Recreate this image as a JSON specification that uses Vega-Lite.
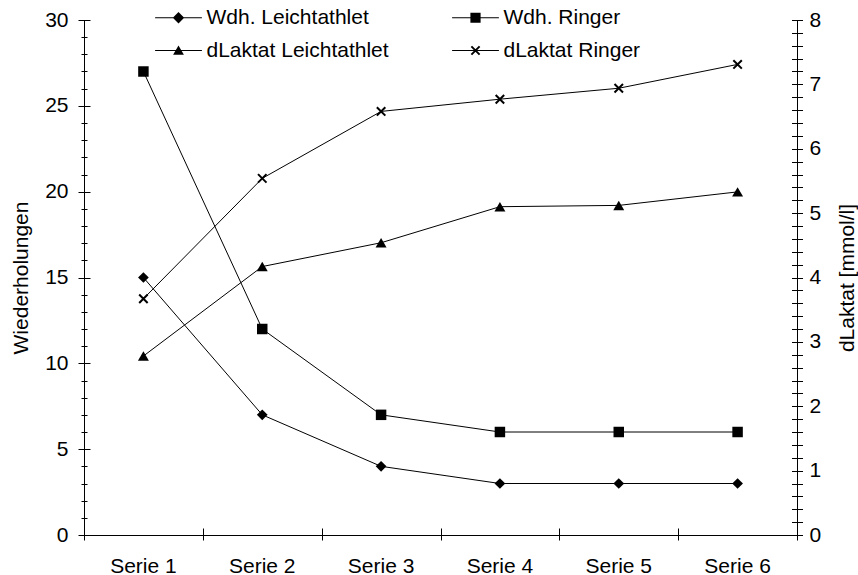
{
  "$schema": "https://vega.github.io/schema/vega-lite/v6.json",
  "width": 713,
  "height": 515,
  "autosize": {"type": "none"},
  "padding": {"left": 84, "top": 20, "right": 61, "bottom": 40},
  "background": "white",
  "config": {
    "view": {"stroke": null},
    "font": "Liberation Sans",
    "axis": {
      "labelFont": "Liberation Sans",
      "titleFont": "Liberation Sans",
      "labelFontSize": 21,
      "titleFontSize": 21,
      "titleFontWeight": "normal",
      "labelColor": "black",
      "titleColor": "black",
      "domainColor": "black",
      "tickColor": "black",
      "domainWidth": 1,
      "tickWidth": 1,
      "grid": false,
      "labelFlush": false,
      "labelOverlap": false
    }
  },
  "data": {
    "values": [
      {"serie": "Serie 1", "series": "Wdh. Leichtathlet", "v": 15},
      {"serie": "Serie 2", "series": "Wdh. Leichtathlet", "v": 7},
      {"serie": "Serie 3", "series": "Wdh. Leichtathlet", "v": 4},
      {"serie": "Serie 4", "series": "Wdh. Leichtathlet", "v": 3},
      {"serie": "Serie 5", "series": "Wdh. Leichtathlet", "v": 3},
      {"serie": "Serie 6", "series": "Wdh. Leichtathlet", "v": 3},
      {"serie": "Serie 1", "series": "Wdh. Ringer", "v": 27},
      {"serie": "Serie 2", "series": "Wdh. Ringer", "v": 12},
      {"serie": "Serie 3", "series": "Wdh. Ringer", "v": 7},
      {"serie": "Serie 4", "series": "Wdh. Ringer", "v": 6},
      {"serie": "Serie 5", "series": "Wdh. Ringer", "v": 6},
      {"serie": "Serie 6", "series": "Wdh. Ringer", "v": 6},
      {"serie": "Serie 1", "series": "dLaktat Leichtathlet", "v": 2.78},
      {"serie": "Serie 2", "series": "dLaktat Leichtathlet", "v": 4.17},
      {"serie": "Serie 3", "series": "dLaktat Leichtathlet", "v": 4.54},
      {"serie": "Serie 4", "series": "dLaktat Leichtathlet", "v": 5.1},
      {"serie": "Serie 5", "series": "dLaktat Leichtathlet", "v": 5.12},
      {"serie": "Serie 6", "series": "dLaktat Leichtathlet", "v": 5.33},
      {"serie": "Serie 1", "series": "dLaktat Ringer", "v": 3.67},
      {"serie": "Serie 2", "series": "dLaktat Ringer", "v": 5.54},
      {"serie": "Serie 3", "series": "dLaktat Ringer", "v": 6.58},
      {"serie": "Serie 4", "series": "dLaktat Ringer", "v": 6.77},
      {"serie": "Serie 5", "series": "dLaktat Ringer", "v": 6.94},
      {"serie": "Serie 6", "series": "dLaktat Ringer", "v": 7.31}
    ]
  },
  "encoding": {
    "x": {
      "field": "serie", "type": "nominal",
      "scale": {"type": "band", "domain": ["Serie 1", "Serie 2", "Serie 3", "Serie 4", "Serie 5", "Serie 6"], "paddingInner": 0, "paddingOuter": 0},
      "axis": null
    }
  },
  "layer": [
    {
      "transform": [{"filter": {"field": "series", "oneOf": ["Wdh. Leichtathlet", "Wdh. Ringer"]}}],
      "encoding": {
        "y": {"field": "v", "type": "quantitative", "scale": {"domain": [0, 30], "nice": false}, "axis": null}
      },
      "layer": [
        {
          "mark": {"type": "line", "color": "black", "strokeWidth": 1},
          "encoding": {
            "detail": {"field": "series"},
            "x": {
              "field": "serie", "type": "nominal",
              "scale": {"type": "band", "domain": ["Serie 1", "Serie 2", "Serie 3", "Serie 4", "Serie 5", "Serie 6"], "paddingInner": 0, "paddingOuter": 0},
              "axis": {"orient": "bottom", "title": null, "ticks": false, "domain": true, "labelPadding": 20, "labelAngle": 0}
            },
            "y": {
              "field": "v", "type": "quantitative", "scale": {"domain": [0, 30], "nice": false},
              "axis": {"orient": "left", "title": "Wiederholungen", "values": [0, 5, 10, 15, 20, 25, 30], "ticks": false, "domain": true, "labelPadding": 16, "titlePadding": 13}
            }
          }
        },
        {
          "transform": [{"filter": {"field": "series", "equal": "Wdh. Leichtathlet"}}],
          "mark": {"type": "point", "shape": "diamond", "filled": true, "color": "black", "opacity": 1, "size": 115},
          "encoding": {
            "y": {
              "field": "v", "type": "quantitative", "scale": {"domain": [0, 30], "nice": false},
              "axis": {"orient": "left", "title": null, "labels": false, "domain": false, "ticks": true, "values": [0, 5, 10, 15, 20, 25, 30], "tickSize": 12, "offset": -6}
            }
          }
        },
        {
          "transform": [{"filter": {"field": "series", "equal": "Wdh. Ringer"}}],
          "mark": {"type": "point", "shape": "square", "filled": true, "color": "black", "opacity": 1, "size": 110},
          "encoding": {
            "y": {
              "field": "v", "type": "quantitative", "scale": {"domain": [0, 30], "nice": false},
              "axis": {"orient": "left", "title": null, "labels": false, "domain": false, "ticks": true, "values": [0, 1, 2, 3, 4, 5, 6, 7, 8, 9, 10, 11, 12, 13, 14, 15, 16, 17, 18, 19, 20, 21, 22, 23, 24, 25, 26, 27, 28, 29, 30], "tickSize": 6, "offset": -3}
            }
          }
        },
        {
          "transform": [{"filter": "false"}],
          "mark": {"type": "point", "filled": true, "color": "black", "opacity": 1},
          "encoding": {
            "shape": {
              "field": "series", "type": "nominal",
              "scale": {
                "domain": ["Wdh. Leichtathlet", "Wdh. Ringer", "dLaktat Leichtathlet", "dLaktat Ringer"],
                "range": [
                  "M-3.9,-0.085H3.9V0.085H-3.9ZM-0.95,0L0,-0.95L0.95,0L0,0.95Z",
                  "M-3.9,-0.085H3.9V0.085H-3.9ZM-0.85,-0.85H0.85V0.85H-0.85Z",
                  "M-3.9,-0.085H3.9V0.085H-3.9ZM0,-0.85L0.9,0.7L-0.9,0.7Z",
                  "M-3.9,-0.085H3.9V0.085H-3.9ZM-0.57,-0.8L0.8,0.57L0.57,0.8L-0.8,-0.57ZM0.8,-0.57L-0.57,0.8L-0.8,0.57L0.57,-0.8Z"
                ]
              },
              "legend": {
                "orient": "none", "legendX": 84, "legendY": -13, "columns": 2, "direction": "horizontal", "title": null,
                "symbolSize": 144, "symbolStrokeWidth": 0, "symbolFillColor": "black", "symbolStrokeColor": "black", "symbolOpacity": 1,
                "labelFont": "Liberation Sans", "labelFontSize": 21, "labelColor": "black", "labelOffset": 17.5, "labelLimit": 400,
                "columnPadding": 63, "rowPadding": 11, "padding": 0
              }
            }
          }
        }
      ],
      "resolve": {"axis": {"x": "independent", "y": "independent"}}
    },
    {
      "transform": [{"filter": {"field": "series", "oneOf": ["dLaktat Leichtathlet", "dLaktat Ringer"]}}],
      "encoding": {
        "y": {"field": "v", "type": "quantitative", "scale": {"domain": [0, 8], "nice": false}, "axis": null}
      },
      "layer": [
        {
          "mark": {"type": "line", "color": "black", "strokeWidth": 1},
          "encoding": {
            "detail": {"field": "series"},
            "x": {
              "field": "serie", "type": "nominal",
              "scale": {"type": "band", "domain": ["Serie 1", "Serie 2", "Serie 3", "Serie 4", "Serie 5", "Serie 6"], "paddingInner": 0, "paddingOuter": 0},
              "axis": {"orient": "bottom", "title": null, "labels": false, "domain": false, "ticks": true, "tickBand": "extent", "tickSize": 12, "offset": -7}
            },
            "y": {
              "field": "v", "type": "quantitative", "scale": {"domain": [0, 8], "nice": false},
              "axis": {"orient": "right", "title": "dLaktat [mmol/l]", "values": [0, 1, 2, 3, 4, 5, 6, 7, 8], "ticks": false, "domain": true, "labelPadding": 12, "titleAngle": 270, "titleBaseline": "top", "titlePadding": 16}
            }
          }
        },
        {
          "transform": [{"filter": {"field": "series", "equal": "dLaktat Leichtathlet"}}],
          "mark": {"type": "point", "shape": "triangle-up", "filled": true, "color": "black", "opacity": 1, "size": 120},
          "encoding": {
            "y": {
              "field": "v", "type": "quantitative", "scale": {"domain": [0, 8], "nice": false},
              "axis": {"orient": "right", "title": null, "labels": false, "domain": false, "ticks": true, "values": [0, 0.2, 0.4, 0.6, 0.8, 1, 1.2, 1.4, 1.6, 1.8, 2, 2.2, 2.4, 2.6, 2.8, 3, 3.2, 3.4, 3.6, 3.8, 4, 4.2, 4.4, 4.6, 4.8, 5, 5.2, 5.4, 5.6, 5.8, 6, 6.2, 6.4, 6.6, 6.8, 7, 7.2, 7.4, 7.6, 7.8, 8], "tickSize": 11, "offset": -5.5}
            }
          }
        },
        {
          "transform": [{"filter": {"field": "series", "equal": "dLaktat Ringer"}}],
          "mark": {"type": "point", "shape": "M-1,-1L1,1M-1,1L1,-1", "filled": false, "color": "black", "strokeWidth": 2, "opacity": 1, "size": 72}
        }
      ],
      "resolve": {"axis": {"x": "independent", "y": "independent"}}
    }
  ],
  "resolve": {"scale": {"y": "independent"}, "axis": {"x": "independent", "y": "independent"}}
}
